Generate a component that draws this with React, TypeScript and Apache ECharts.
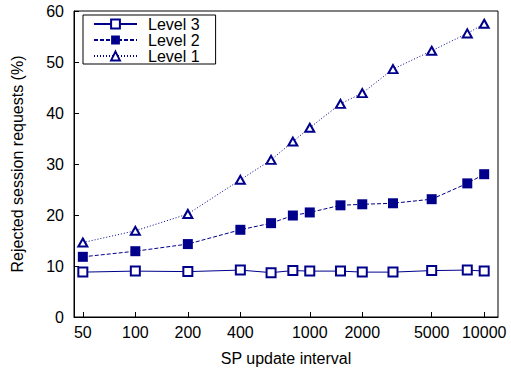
import React, { useEffect, useRef } from "react";
import * as echarts from "echarts";

const xValues = [50, 100, 200, 400, 600, 800, 1000, 1500, 2000, 3000, 5000, 8000, 10000];
const level3 = [8.8, 9.0, 8.9, 9.2, 8.7, 9.1, 9.0, 9.0, 8.8, 8.8, 9.1, 9.2, 9.0];
const level2 = [11.8, 12.9, 14.3, 17.1, 18.4, 19.9, 20.5, 21.9, 22.1, 22.3, 23.1, 26.2, 28.0];
const level1 = [14.6, 16.9, 20.2, 26.9, 30.8, 34.4, 37.1, 41.8, 43.9, 48.6, 52.2, 55.6, 57.5];
const xTicks = [50, 100, 200, 400, 1000, 2000, 5000, 10000];
const xRange = [44.5, 12000];
const yTicks = [0, 10, 20, 30, 40, 50, 60];

const FONT = "'Liberation Sans', Arial, Helvetica, sans-serif";
const COLOR = "#00008b";

const toPoints = (ys: number[]) => xValues.map((x, i) => [Math.log10(x), ys[i]]);

export default function App() {
  const ref = useRef<HTMLDivElement>(null);
  useEffect(() => {
    if (!ref.current) return;
    const chart = echarts.init(ref.current, null, { renderer: "svg" });
    chart.setOption({
      animation: false,
      textStyle: { fontFamily: FONT, color: "#000" },
      grid: {
        left: 74,
        right: 13,
        top: 11,
        bottom: 54,
        show: true,
        borderColor: "#000",
        borderWidth: 1,
        containLabel: false,
        outerBoundsMode: "none",
      },
      legend: {
        orient: "vertical",
        left: 83,
        top: 15,
        itemWidth: 43,
        itemHeight: 11,
        itemGap: 0,
        padding: [1, 16, 0, 10],
        borderColor: "#000",
        borderWidth: 1,
        textStyle: { fontSize: 16, lineHeight: 16, fontFamily: FONT, color: "#000", padding: [0, 0, 0, 6] },
        data: ["Level 3", "Level 2", "Level 1"],
      },
      xAxis: {
        type: "value",
        min: Math.log10(xRange[0]),
        max: Math.log10(xRange[1]),
        name: "SP update interval",
        nameLocation: "middle",
        nameGap: 33,
        nameTextStyle: { fontSize: 16, fontFamily: FONT, color: "#000" },
        axisLine: { lineStyle: { color: "#000", width: 1 } },
        axisTick: {
          inside: true,
          length: 5,
          lineStyle: { color: "#000" },
          customValues: xTicks.map((t) => Math.log10(t)),
        },
        axisLabel: {
          fontSize: 16,
          fontFamily: FONT,
          color: "#000",
          margin: 7,
          customValues: xTicks.map((t) => Math.log10(t)),
          formatter: (v: number) => String(Math.round(Math.pow(10, v))),
        },
        splitLine: { show: false },
      },
      yAxis: {
        type: "value",
        min: yTicks[0],
        max: yTicks[yTicks.length - 1],
        interval: 10,
        name: "Rejected session requests (%)",
        nameLocation: "middle",
        nameGap: 49,
        nameTextStyle: { fontSize: 16, fontFamily: FONT, color: "#000" },
        axisLine: { show: true, lineStyle: { color: "#000", width: 1 } },
        axisTick: { show: true, inside: true, length: 5, lineStyle: { color: "#000" } },
        axisLabel: { fontSize: 16, fontFamily: FONT, color: "#000", margin: 10 },
        splitLine: { show: false },
      },
      series: [
        {
          name: "Level 3",
          type: "line",
          data: toPoints(level3),
          symbol: "emptyRect",
          symbolSize: 9,
          color: COLOR,
          lineStyle: { color: COLOR, width: 1, type: "solid" },
          itemStyle: { color: COLOR, borderColor: COLOR, borderWidth: 1 },
          z: 3,
        },
        {
          name: "Level 2",
          type: "line",
          data: toPoints(level2),
          symbol: "rect",
          symbolSize: 10,
          color: COLOR,
          lineStyle: { color: COLOR, width: 1, type: [4, 2] },
          itemStyle: { color: COLOR },
          z: 2,
        },
        {
          name: "Level 1",
          type: "line",
          data: toPoints(level1),
          symbol: "emptyTriangle",
          symbolSize: [9, 8],
          color: COLOR,
          lineStyle: { color: COLOR, width: 1, type: [1, 2] },
          itemStyle: { color: COLOR, borderColor: COLOR, borderWidth: 1 },
          z: 1,
        },
      ],
    });
    return () => chart.dispose();
  }, []);
  return (
    <div
      ref={ref}
      style={{ position: "absolute", left: 0, top: 0, width: 511, height: 371 }}
    />
  );
}
